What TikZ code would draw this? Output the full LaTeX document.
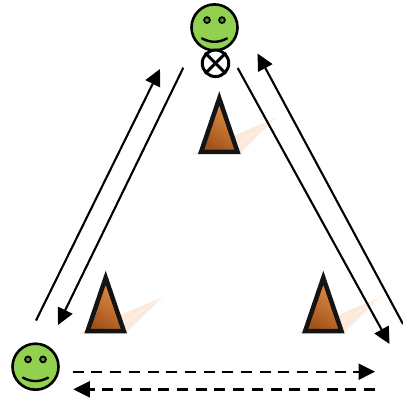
\documentclass[tikz,border=0pt]{standalone}
\usetikzlibrary{arrows.meta}
\definecolor{facegreen}{HTML}{92D14F}
\definecolor{conelight}{HTML}{E8924A}
\definecolor{conedark}{HTML}{A0521A}
\definecolor{beam}{HTML}{FCE9DA}
\tikzset{
  facebody/.style={draw=black,fill=facegreen,line width=2.6pt},
  faceeye/.style={draw=black,fill=facegreen!70!black,line width=1.8pt},
  facesmile/.style={draw=black,line width=2.4pt,line cap=round},
  sensor/.style={draw=black,fill=white,line width=3pt},
  cone/.style={draw=black!92,line width=4.5pt,line join=miter,left color=conelight,right color=conedark,shading angle=-35},
  beamfill/.style={fill=beam,draw=none},
  beamstreak/.style={draw=white,line width=.7pt,dash pattern=on 1pt off 1pt},
  link/.style={line width=2.1pt,-{Triangle[length=16.5pt,width=16pt]}},
  dashlink/.style={link,line width=2.4pt,dash pattern=on 11pt off 7.7pt}
}
\newcommand{\smiley}[3]{%
  \node[facebody,circle,minimum size=46pt,inner sep=0pt] (#3) at (#1,#2) {};
  \node[faceeye,circle,minimum size=5.8pt,inner sep=0pt] (#3eyeL) at (#1-7.5,#2-7.3) {};
  \node[faceeye,circle,minimum size=5.8pt,inner sep=0pt] (#3eyeR) at (#1+7.5,#2-7.3) {};
  \draw[facesmile] (#1-12.5,#2+11) .. controls (#1-4,#2+15.5) and (#1+4,#2+15.5) .. (#1+12.5,#2+11);
}
\newcommand{\conemark}[2]{%
  \fill[beamfill] (#1-27.5,#2+2.2) -- (#1+57.5,#2-34.5) -- (#1+20.5,#2+2.2) -- cycle;
  \draw[beamstreak] (#1+57.5,#2-34.5) -- (#1+18,#2-8);
  \draw[beamstreak] (#1+57.5,#2-34.5) -- (#1+22,#2);
  \shadedraw[cone] (#1,#2-53.5) -- (#1-18.2,#2) -- (#1+18.2,#2) -- cycle;
}
\begin{document}
\begin{tikzpicture}[x=1pt,y=-1pt]
\useasboundingbox (0,0) rectangle (403,401);
\smiley{214.5}{27.4}{top}
\smiley{35.5}{366.7}{left}
\node[sensor,circle,minimum size=26.5pt,inner sep=0pt] (otimes) at (215.5,63.3) {};
\draw[line width=3pt,line cap=butt] (otimes.north west) -- (otimes.south east);
\draw[line width=3pt,line cap=butt] (otimes.north east) -- (otimes.south west);
\conemark{219.3}{151.8}
\conemark{105.7}{331.2}
\conemark{323.3}{331.2}
\coordinate (a1) at (36,320.5);
\coordinate (a2) at (160,69);
\coordinate (b1) at (183.3,67.7);
\coordinate (b2) at (58,325);
\coordinate (c1) at (237.7,68);
\coordinate (c2) at (389.5,344);
\coordinate (d1) at (403,324);
\coordinate (d2) at (257.5,53.5);
\coordinate (e1) at (72.7,371.7);
\coordinate (e2) at (375,371.7);
\coordinate (f1) at (375,389.3);
\coordinate (f2) at (73.3,389.3);
\draw[link] (a1) -- (a2);
\draw[link] (b1) -- (b2);
\draw[link] (c1) -- (c2);
\draw[link] (d1) -- (d2);
\draw[dashlink] (e1) -- (e2);
\draw[dashlink] (f1) -- (f2);
\end{tikzpicture}
\end{document}
